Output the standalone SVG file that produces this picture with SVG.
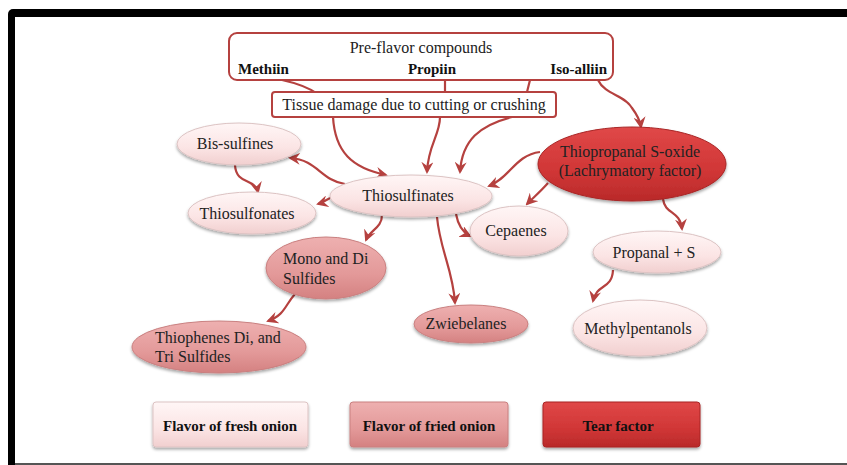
<svg xmlns="http://www.w3.org/2000/svg" width="847" height="465" viewBox="0 0 847 465">
<defs>
<linearGradient id="gFresh" x1="0" y1="0" x2="0" y2="1"><stop offset="0" stop-color="#fff6f6"/><stop offset="0.6" stop-color="#fbe4e4"/><stop offset="1" stop-color="#f1cfcf"/></linearGradient>
<linearGradient id="gFried" x1="0" y1="0" x2="0" y2="1"><stop offset="0" stop-color="#eeb0b0"/><stop offset="0.6" stop-color="#e39999"/><stop offset="1" stop-color="#d48181"/></linearGradient>
<linearGradient id="gTear" x1="0" y1="0" x2="0" y2="1"><stop offset="0" stop-color="#e04848"/><stop offset="0.6" stop-color="#d03636"/><stop offset="1" stop-color="#b92a2a"/></linearGradient>
<filter id="sh" x="-20%" y="-20%" width="140%" height="160%"><feDropShadow dx="0" dy="2" stdDeviation="1.6" flood-color="#000" flood-opacity="0.35"/></filter>
<marker id="ah" markerUnits="userSpaceOnUse" markerWidth="12" markerHeight="12" refX="10" refY="6" orient="auto"><path d="M0,0 L12,6 L0,12 L4,6 z" fill="#b5413f"/></marker>
<style>
.t{font-family:"Liberation Serif","Times New Roman",serif;font-size:16px;fill:#222}
.b{font-family:"Liberation Serif","Times New Roman",serif;font-size:15px;font-weight:bold;fill:#111}
.lg{font-family:"Liberation Serif","Times New Roman",serif;font-size:15px;font-weight:bold;fill:#111}
.box{fill:#fff;stroke:#b5413f;stroke-width:2}
.fresh{fill:url(#gFresh);stroke:#dcc3c3;stroke-width:1;filter:url(#sh)}
.fried{fill:url(#gFried);stroke:#c98080;stroke-width:1;filter:url(#sh)}
.tear{fill:url(#gTear);stroke:#a82525;stroke-width:1;filter:url(#sh)}
.c{fill:none;stroke:#b5413f;stroke-width:2.2}
.ca{fill:none;stroke:#b5413f;stroke-width:2.2;marker-end:url(#ah)}
</style>
</defs>
<rect x="0" y="0" width="847" height="465" fill="#fff"/>
<rect x="8" y="9" width="850" height="470" rx="5" fill="#000"/>
<rect x="15" y="17" width="840" height="446" fill="#fff"/>
<rect x="15" y="463" width="832" height="2" fill="#555"/>

<g id="connectors">
<path class="ca" d="M282 80 C305 85,330 95,333 117 C335 152,352 168,386 175"/>
<path class="c" d="M445 80 L445 92"/>
<path class="ca" d="M440 117 C440 135,428 145,427 172"/>
<path class="c" d="M530 80 L527 92"/>
<path class="ca" d="M512 117 C480 125,462 140,460 172"/>
<path class="ca" d="M598 80 C605 95,625 95,632 108 C638 116,640 120,641 127"/>
<path class="ca" d="M540 152 C515 155,510 178,489 186"/>
<path class="ca" d="M548 183 C540 192,535 196,527 204"/>
<path class="ca" d="M663 199 C665 215,680 210,682 229"/>
<path class="ca" d="M613 270 C612 290,597 283,593 301"/>
<path class="ca" d="M345 184 C320 180,318 160,290 158"/>
<path class="ca" d="M235 165 C236 185,255 178,258 192"/>
<path class="ca" d="M333 197 C328 198,325 202,318 204"/>
<path class="ca" d="M382 215 C382 228,370 230,366 240"/>
<path class="ca" d="M437 217 C440 250,453 270,455 303"/>
<path class="ca" d="M456 214 C458 225,462 232,470 236"/>
<path class="ca" d="M295 294 C285 305,285 315,268 321"/>
</g>

<g id="preflavor">
<rect class="box" x="229" y="33" width="384" height="47" rx="8"/>
<text class="t" x="421" y="53" text-anchor="middle" font-size="15">Pre-flavor compounds</text>
<text class="b" x="238" y="74">Methiin</text>
<text class="b" x="432" y="74" text-anchor="middle">Propiin</text>
<text class="b" x="607" y="74" text-anchor="end">Iso-alliin</text>
</g>
<g id="tissue">
<rect class="box" x="272" y="92" width="284" height="25" rx="3"/>
<text class="t" x="414" y="110" text-anchor="middle" font-size="15">Tissue damage due to cutting or crushing</text>
</g>
<g id="bissulfines">
<ellipse class="fresh" cx="239" cy="144" rx="62" ry="21"/>
<text class="t" x="235" y="149" text-anchor="middle">Bis-sulfines</text>
</g>
<g id="thiosulfonates">
<ellipse class="fresh" cx="252" cy="213" rx="64" ry="21"/>
<text class="t" x="247" y="219" text-anchor="middle">Thiosulfonates</text>
</g>
<g id="thiosulfinates">
<ellipse class="fresh" cx="411" cy="196" rx="81" ry="21"/>
<text class="t" x="408" y="201" text-anchor="middle">Thiosulfinates</text>
</g>
<g id="cepaenes">
<ellipse class="fresh" cx="519" cy="231" rx="49" ry="25"/>
<text class="t" x="516" y="236" text-anchor="middle">Cepaenes</text>
</g>
<g id="thiopropanal">
<ellipse class="tear" cx="632" cy="164" rx="94" ry="37"/>
<text class="t" x="630" y="157" text-anchor="middle" font-size="15.5">Thiopropanal S-oxide</text>
<text class="t" x="630" y="176" text-anchor="middle" font-size="15.5">(Lachrymatory factor)</text>
</g>
<g id="propanal">
<ellipse class="fresh" cx="657" cy="252" rx="64" ry="21"/>
<text class="t" x="654" y="258" text-anchor="middle">Propanal + S</text>
</g>
<g id="methylpentanols">
<ellipse class="fresh" cx="640" cy="328" rx="67" ry="28"/>
<text class="t" x="638" y="334" text-anchor="middle">Methylpentanols</text>
</g>
<g id="monodi">
<ellipse class="fried" cx="326" cy="268" rx="60" ry="31"/>
<text class="t" x="283" y="264">Mono and Di</text>
<text class="t" x="283" y="284">Sulfides</text>
</g>
<g id="zwiebelanes">
<ellipse class="fried" cx="471" cy="324" rx="57" ry="19"/>
<text class="t" x="466" y="329" text-anchor="middle">Zwiebelanes</text>
</g>
<g id="thiophenes">
<ellipse class="fried" cx="219" cy="347" rx="87" ry="26"/>
<text class="t" x="155" y="343">Thiophenes Di, and</text>
<text class="t" x="155" y="362">Tri Sulfides</text>
</g>
<g id="legend-fresh">
<rect class="fresh" x="153" y="402" width="155" height="45" rx="3"/>
<text class="lg" x="230" y="431" text-anchor="middle">Flavor of fresh onion</text>
</g>
<g id="legend-fried">
<rect class="fried" x="350" y="402" width="158" height="45" rx="3"/>
<text class="lg" x="429" y="431" text-anchor="middle">Flavor of fried onion</text>
</g>
<g id="legend-tear">
<rect class="tear" x="543" y="402" width="157" height="45" rx="3"/>
<text class="lg" x="618" y="431" text-anchor="middle">Tear factor</text>
</g>
</svg>
